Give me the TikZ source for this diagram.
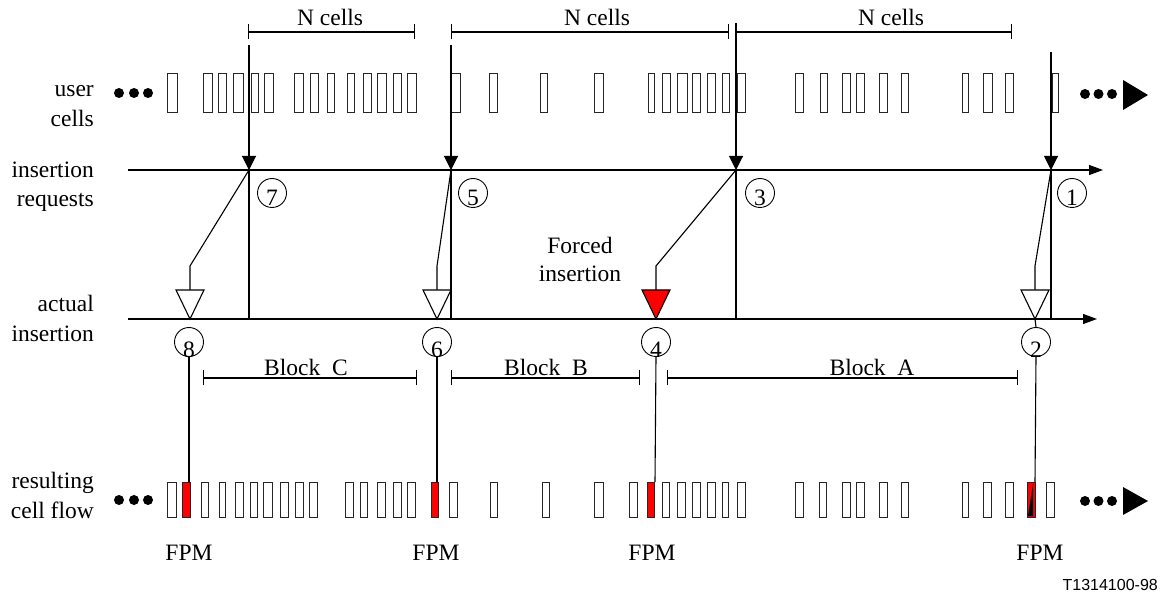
\documentclass[tikz,border=0pt]{standalone}
\usepackage{fontspec}
\setmainfont{Liberation Serif}
\newfontfamily\arialfont{Liberation Sans}
\usetikzlibrary{arrows.meta}
\begin{document}
\begin{tikzpicture}[x=1pt,y=-1pt,
  every node/.style={font=\fontsize{23.5}{28}\selectfont, inner sep=0pt},
  ln/.style={line width=1.1pt},
  cell/.style={draw=black!85, line width=0.9pt, fill=white},
  fpmcell/.style={draw=black!85, line width=0.9pt, fill=red},
  num/.style={circle, draw, line width=0.9pt, minimum size=29pt},
  tri/.style={ln, fill=white},
  redtri/.style={ln, fill=red},
  dim/.style={ln, {Bar[width=15pt]}-{Bar[width=15pt]}},
  axis/.style={ln, -{Triangle[length=14pt,width=10pt]}},
  reqarrow/.style={ln, -{Triangle[length=14pt,width=14pt]}},
  lab/.style={anchor=base east},
  dot/.style={fill=black}
]
\useasboundingbox (0,0) rectangle (1162,593);

% ---------- left labels ----------
\node[lab] (lu1) at (94,97) {user};
\node[lab] (lu2) at (94,127) {cells};
\node[lab] (lr1) at (94,178) {insertion};
\node[lab] (lr2) at (94,207) {requests};
\node[lab] (la1) at (94,312) {actual};
\node[lab] (la2) at (94,342) {insertion};
\node[lab] (lf1) at (94,488) {resulting};
\node[lab] (lf2) at (94,518) {cell flow};

% ---------- user cell row ----------
\foreach \x in {119,134,148} \fill[dot] (\x,93) circle (5pt);
\foreach \x/\w in {167/10,203/9,218/8,233/10,251/7,264/9,294/9,310/8,327/7,347/7,363/8,377/9,393/8,407/9,451/9,489/8,540/7,594/9,648/6,662/8,677/10,692/8,707/8,722/7,737/8,795/8,820/7,842/8,856/8,879/8,901/7,962/6,983/9,1005/8,1052/6}
  \draw[cell] (\x,73) rectangle ++(\w,39);
\foreach \x in {1085,1098.5,1112} \fill[dot] (\x,94) circle (5pt);
\fill (1123,80) -- (1148,95) -- (1123,110) -- cycle;

% ---------- N cells dimensions ----------
\draw[dim] (248,32) -- (415,32);
\node (n1) at (330,17) {N cells};
\draw[dim] (451,32) -- (729,32);
\node (n2) at (597,17) {N cells};
\draw[ln,-{Bar[width=15pt]}] (736,32) -- (1012,32);
\node (n3) at (891,17) {N cells};

% ---------- axes ----------
\coordinate (irL) at (128,170);
\coordinate (irR) at (1103,170);
\coordinate (aiL) at (128,319);
\coordinate (aiR) at (1097,319);
\draw[axis] (irL) -- (irR);
\draw[axis] (aiL) -- (aiR);

% ---------- insertion request markers ----------
\coordinate (u7) at (249,45);  \coordinate (m7) at (249,170); \coordinate (a7) at (249,319);
\coordinate (u5) at (451,45);  \coordinate (m5) at (451,170); \coordinate (a5) at (451,319);
\coordinate (u3) at (736,23);  \coordinate (m3) at (736,170); \coordinate (a3) at (736,319);
\coordinate (u1) at (1051,52); \coordinate (m1) at (1051,170); \coordinate (a1) at (1051,319);
\foreach \n in {7,5,3,1} {
  \draw[reqarrow] (u\n) -- (m\n);
  \draw[ln] (m\n) -- (a\n);
}

% ---------- numbered circles (requests) ----------
\node[num] (c7) at (272,193) {};  \node at ([yshift=-5pt]c7.center) {7};
\node[num] (c5) at (473,193) {};  \node at ([yshift=-5pt]c5.center) {5};
\node[num] (c3) at (760,193) {};  \node at ([yshift=-5pt]c3.center) {3};
\node[num] (c1) at (1072,193) {}; \node at ([yshift=-5pt]c1.center) {1};

% ---------- actual insertion triangles ----------
\coordinate (k8) at (190,266); \coordinate (t8) at (190,290); \coordinate (p8) at (190,319);
\coordinate (k6) at (437,266); \coordinate (t6) at (437,290); \coordinate (p6) at (437,319);
\coordinate (k4) at (656,266); \coordinate (t4) at (656,290); \coordinate (p4) at (656,319);
\coordinate (k2) at (1035,266); \coordinate (t2) at (1035,290); \coordinate (p2) at (1035,319);
\draw[ln] (m7) -- (k8) -- (t8);
\draw[ln] (m5) -- (k6) -- (t6);
\draw[ln] (m3) -- (k4) -- (t4);
\draw[ln] (m1) -- (k2) -- (t2);
\draw[tri] (176,290) -- (204,290) -- (p8) -- cycle;
\draw[tri] (423,290) -- (451,290) -- (p6) -- cycle;
\draw[redtri] (642,290) -- (670,290) -- (p4) -- cycle;
\draw[tri] (1021,290) -- (1049,290) -- (p2) -- cycle;

\node[align=center] (forced) at (580,259) {Forced\\insertion};

% ---------- numbered circles (actual) ----------
\node[num] (c8) at (189,342) {};  \node at ([yshift=-8pt]c8.center) {8};
\node[num] (c6) at (437,342) {};  \node at ([yshift=-8pt]c6.center) {6};
\node[num] (c4) at (656,342) {};  \node at ([yshift=-8pt]c4.center) {4};
\node[num] (c2) at (1036,342) {}; \node at ([yshift=-8pt]c2.center) {2};
\draw[ln] (p2) -- (c2.north);

% ---------- blocks ----------
\draw[dim] (203,378) -- (417,378);
\node (bc) at (306,367) {Block~~C};
\draw[dim] (451,378) -- (640,378);
\node (bb) at (546,367) {Block~~B};
\draw[dim] (667,378) -- (1018,378);
\node (ba) at (872,367) {Block~~A};

% ---------- resulting cell flow ----------
\coordinate (f8) at (189,482);
\coordinate (f6) at (437,482);
\coordinate (f4) at (655,482);
\coordinate (f2) at (1035,482);
\draw[ln] (c8.south) -- (f8);
\draw[ln] (c6.south) -- (f6);
\draw[ln] (c4.south) -- (f4);
\draw[ln] (c2.south) -- (f2);

\foreach \x in {119,134,148} \fill[dot] (\x,500) circle (5pt);
\foreach \x/\w in {167/9,201/7,219/6,235/8,250/7,263/9,280/8,295/8,309/8,345/8,360/7,377/8,393/8,407/8,449/8,490/7,542/7,594/9,629/8,662/7,677/8,692/8,707/8,722/6,737/8,795/8,819/7,842/8,856/8,879/8,901/7,962/6,983/8,1005/8,1046/8}
  \draw[cell] (\x,482) rectangle ++(\w,35);
\foreach \x/\w in {182/8,431/7,647/7,1027/8}
  \draw[fpmcell] (\x,482) rectangle ++(\w,35);
\fill (1033,484) -- (1028,516) -- (1033,516) -- cycle;
\foreach \x in {1085,1098.5,1112} \fill[dot] (\x,501) circle (5pt);
\fill (1123,487) -- (1148,501) -- (1123,515) -- cycle;

\node (fpm8) at (189,553) {FPM};
\node (fpm6) at (436,553) {FPM};
\node (fpm4) at (652,553) {FPM};
\node (fpm2) at (1040,553) {FPM};

\node[anchor=east, font=\arialfont\fontsize{16}{18}\selectfont] (id) at (1158,585) {T1314100-98};
\end{tikzpicture}
\end{document}
